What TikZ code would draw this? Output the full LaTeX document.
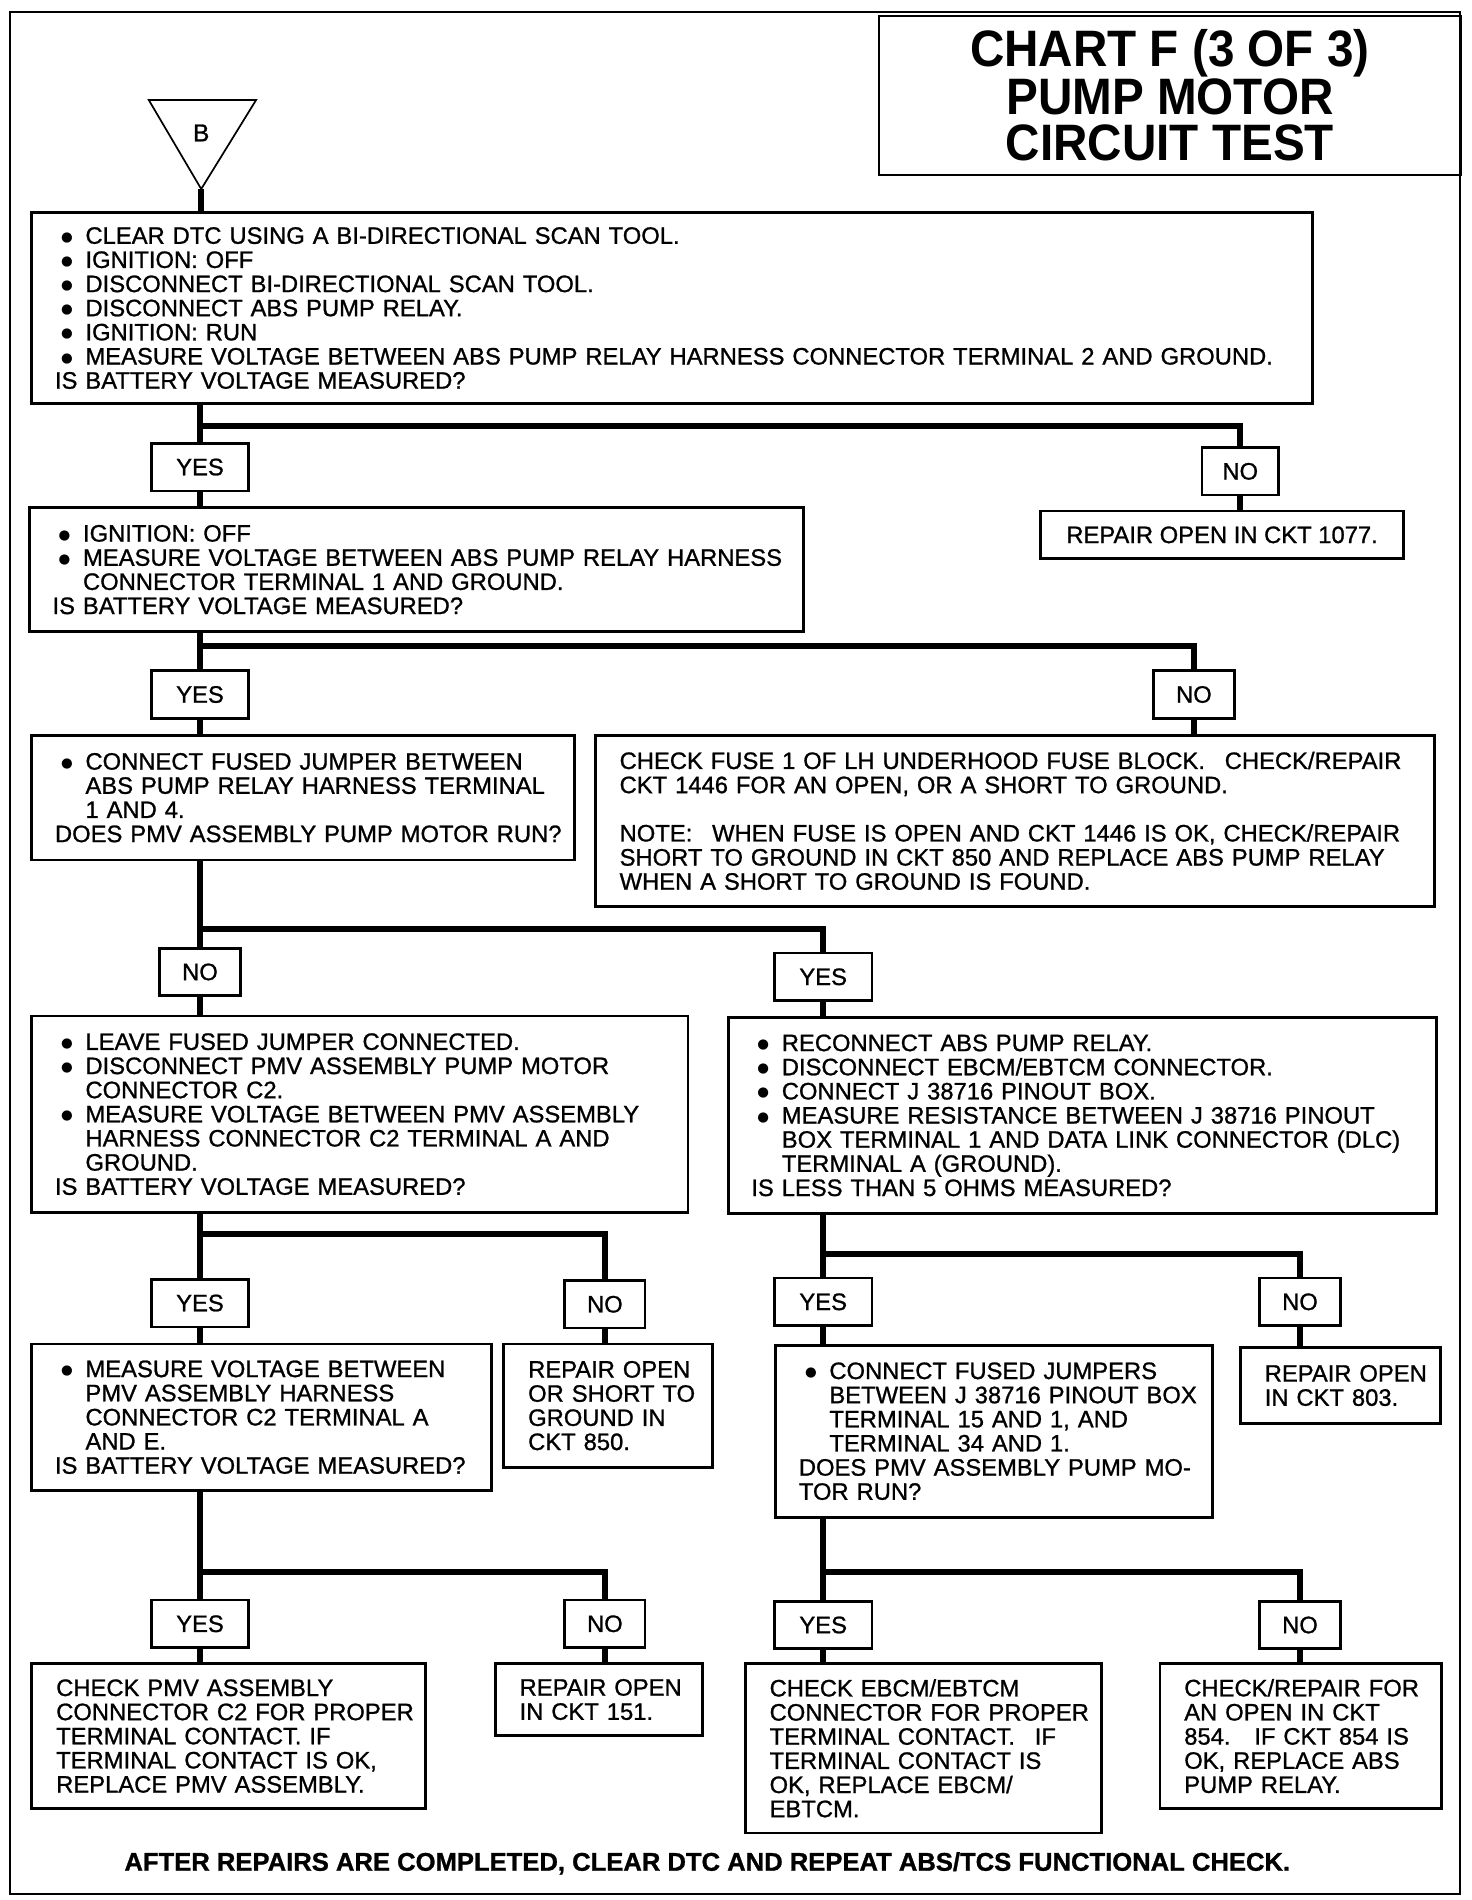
\documentclass[tikz,border=0pt]{standalone}
\usepackage{fontspec}
\setmainfont{Liberation Sans}[FakeBold=1.0]
\newfontfamily\titlefont[FakeStretch=0.93]{Liberation Sans}
\newfontfamily\dotfont{DejaVu Sans}
\usetikzlibrary{positioning}

\newcommand{\itm}{\hspace*{5pt}\makebox[20pt][l]{\raisebox{2pt}{\dotfont\fontsize{11}{11}\selectfont ●}}}
\newcommand{\cnt}{\hspace*{25pt}}

\begin{document}
\begin{tikzpicture}[
    x=1pt,
    y=1pt,
    font=\fontsize{19.5}{19.8}\selectfont,
    line join=miter
  ]

  \tikzstyle{frame} = [rectangle, draw, line width=2.2pt, anchor=north west, inner sep=0pt, align=left]
  \tikzstyle{block} = [frame, execute at begin node={\leftskip=19pt\rightskip=-14pt plus 1fil}]
  \tikzstyle{note} = [frame, execute at begin node={\leftskip=20pt\rightskip=-14pt plus 1fil}]
  \tikzstyle{result} = [rectangle, draw, line width=2.2pt, anchor=north west, inner sep=0pt]
  \tikzstyle{ansyes} = [rectangle, draw, line width=2.2pt, minimum width=80pt, minimum height=39pt, inner sep=0pt]
  \tikzstyle{ansno} = [ansyes, minimum width=66pt]
  \tikzstyle{line} = [draw, line width=4.8pt]

  \useasboundingbox (0,0) rectangle (1207,-1558);
  \draw [line width=1.6pt] (8,-10) rectangle (1197,-1553);

  \node [rectangle, draw, line width=1.6pt, anchor=north west, minimum width=477pt, minimum height=131pt, align=center,
         font=\titlefont\fontsize{42}{38}\selectfont\bfseries] (title) at (720,-12) {CHART F (3 OF 3)\\PUMP MOTOR\\CIRCUIT TEST};

  % entry point
  \coordinate (tip) at (165,-155);
  \draw [line width=1.4pt] (122,-82) -- (210,-82) -- (tip) -- cycle;
  \node [font=\fontsize{20}{20}\selectfont] (entry) at (165,-109) {B};

  \node [block, text width=1050pt, minimum height=157pt] (q1) at (25,-173) {\itm CLEAR DTC USING A BI-DIRECTIONAL SCAN TOOL.\\ \itm IGNITION: OFF\\ \itm DISCONNECT BI-DIRECTIONAL SCAN TOOL.\\ \itm DISCONNECT ABS PUMP RELAY.\\ \itm IGNITION: RUN\\ \itm MEASURE VOLTAGE BETWEEN ABS PUMP RELAY HARNESS CONNECTOR TERMINAL 2 AND GROUND.\\ IS BATTERY VOLTAGE MEASURED?};

  \draw [line] (tip) -- (q1.north -| tip);

  \coordinate (br1) at (0,-349);
  \node [ansyes] (yes1) at (164,-383) {YES};
  \node [ansno, minimum width=63pt] (no1) at (1017,-386.5) {NO};
  \node [result, minimum width=298pt, minimum height=39pt] (res1) at (852,-418) {REPAIR OPEN IN CKT 1077.};

  \draw [line] (q1.south -| yes1) -- (yes1.north);
  \draw [line] (yes1 |- br1) -| (no1.north);
  \draw [line] (no1.south) -- (no1 |- res1.north);

  \node [block, text width=635pt, minimum height=102pt] (q2) at (23,-415) {\itm IGNITION: OFF\\ \itm MEASURE VOLTAGE BETWEEN ABS PUMP RELAY HARNESS\\ \cnt CONNECTOR TERMINAL 1 AND GROUND.\\ IS BATTERY VOLTAGE MEASURED?};

  \draw [line] (yes1.south) -- (yes1 |- q2.north);

  \coordinate (br2) at (0,-530);
  \node [ansyes] (yes2) at (164,-569.5) {YES};
  \node [ansno] (no2) at (979,-569.5) {NO};

  \draw [line] (q2.south -| yes2) -- (yes2.north);
  \draw [line] (yes2 |- br2) -| (no2.north);

  \node [block, text width=445pt, minimum height=102pt] (q3) at (25,-602) {\itm CONNECT FUSED JUMPER BETWEEN\\ \cnt ABS PUMP RELAY HARNESS TERMINAL\\ \cnt 1 AND 4.\\ DOES PMV ASSEMBLY PUMP MOTOR RUN?};
  \node [note, text width=688pt, minimum height=140pt] (fuse) at (487,-602) {CHECK FUSE 1 OF LH UNDERHOOD FUSE BLOCK.\hspace{0.5em} CHECK/REPAIR\\ CKT 1446 FOR AN OPEN, OR A SHORT TO GROUND.\\[19.8pt] NOTE:\hspace{0.5em} WHEN FUSE IS OPEN AND CKT 1446 IS OK, CHECK/REPAIR\\ SHORT TO GROUND IN CKT 850 AND REPLACE ABS PUMP RELAY\\ WHEN A SHORT TO GROUND IS FOUND.};

  \draw [line] (yes2.south) -- (yes2 |- q3.north);
  \draw [line] (no2.south) -- (no2 |- fuse.north);

  \coordinate (br3) at (0,-762);
  \node [ansno] (no3) at (164,-797) {NO};
  \node [ansyes] (yes3) at (675,-801) {YES};

  \draw [line] (q3.south -| no3) -- (no3.north);
  \draw [line] (no3 |- br3) -| (yes3.north);

  \node [block, text width=538pt, minimum height=161pt] (q4) at (25,-832) {\itm LEAVE FUSED JUMPER CONNECTED.\\ \itm DISCONNECT PMV ASSEMBLY PUMP MOTOR\\ \cnt CONNECTOR C2.\\ \itm MEASURE VOLTAGE BETWEEN PMV ASSEMBLY\\ \cnt HARNESS CONNECTOR C2 TERMINAL A AND\\ \cnt GROUND.\\ IS BATTERY VOLTAGE MEASURED?};
  \node [block, text width=581pt, minimum height=161pt] (q5) at (596,-833) {\itm RECONNECT ABS PUMP RELAY.\\ \itm DISCONNECT EBCM/EBTCM CONNECTOR.\\ \itm CONNECT J 38716 PINOUT BOX.\\ \itm MEASURE RESISTANCE BETWEEN J 38716 PINOUT\\ \cnt BOX TERMINAL 1 AND DATA LINK CONNECTOR (DLC)\\ \cnt TERMINAL A (GROUND).\\ IS LESS THAN 5 OHMS MEASURED?};

  \draw [line] (no3.south) -- (no3 |- q4.north);
  \draw [line] (yes3.south) -- (yes3 |- q5.north);

  \coordinate (br4) at (0,-1012);
  \coordinate (br5) at (0,-1028);
  \node [ansyes] (yes4) at (164,-1068.5) {YES};
  \node [ansno] (no4) at (496,-1069.5) {NO};
  \node [ansyes] (yes5) at (675,-1067.5) {YES};
  \node [ansno] (no5) at (1066,-1067.5) {NO};

  \draw [line] (q4.south -| yes4) -- (yes4.north);
  \draw [line] (yes4 |- br4) -| (no4.north);
  \draw [line] (q5.south -| yes5) -- (yes5.north);
  \draw [line] (yes5 |- br5) -| (no5.north);

  \node [block, text width=377pt, minimum height=120pt] (q6) at (25,-1101) {\itm MEASURE VOLTAGE BETWEEN\\ \cnt PMV ASSEMBLY HARNESS\\ \cnt CONNECTOR C2 TERMINAL A\\ \cnt AND E.\\ IS BATTERY VOLTAGE MEASURED?};
  \node [note, text width=171pt, minimum height=101pt] (res850) at (412,-1101) {REPAIR OPEN\\ OR SHORT TO\\ GROUND IN\\ CKT 850.};
  \node [block, text width=358pt, minimum height=141pt] (q7) at (635,-1102) {\itm CONNECT FUSED JUMPERS\\ \cnt BETWEEN J 38716 PINOUT BOX\\ \cnt TERMINAL 15 AND 1, AND\\ \cnt TERMINAL 34 AND 1.\\ DOES PMV ASSEMBLY PUMP MO-\\ TOR RUN?};
  \node [note, text width=164pt, minimum height=62pt] (res803) at (1016,-1104) {REPAIR OPEN\\ IN CKT 803.};

  \draw [line] (yes4.south) -- (yes4 |- q6.north);
  \draw [line] (no4.south) -- (no4 |- res850.north);
  \draw [line] (yes5.south) -- (yes5 |- q7.north);
  \draw [line] (no5.south) -- (no5 |- res803.north);

  \coordinate (br6) at (0,-1289);
  \node [ansyes] (yes6) at (164,-1331.5) {YES};
  \node [ansno] (no6) at (496,-1331.5) {NO};
  \node [ansyes] (yes7) at (675,-1332.5) {YES};
  \node [ansno] (no7) at (1066,-1332.5) {NO};

  \draw [line] (q6.south -| yes6) -- (yes6.north);
  \draw [line] (yes6 |- br6) -| (no6.north);
  \draw [line] (q7.south -| yes7) -- (yes7.north);
  \draw [line] (yes7 |- br6) -| (no7.north);

  \node [note, text width=323pt, minimum height=119pt] (fin1) at (25,-1363) {CHECK PMV ASSEMBLY\\ CONNECTOR C2 FOR PROPER\\ TERMINAL CONTACT. IF\\ TERMINAL CONTACT IS OK,\\ REPLACE PMV ASSEMBLY.};
  \node [note, text width=170pt, minimum height=59pt] (res151) at (405,-1363) {REPAIR OPEN\\ IN CKT 151.};
  \node [note, text width=292pt, minimum height=139pt] (fin2) at (610,-1363) {CHECK EBCM/EBTCM\\ CONNECTOR FOR PROPER\\ TERMINAL CONTACT.\hspace{0.5em} IF\\ TERMINAL CONTACT IS\\ OK, REPLACE EBCM/\\ EBTCM.};
  \node [note, text width=231pt, minimum height=119pt] (fin3) at (950,-1363) {CHECK/REPAIR FOR\\ AN OPEN IN CKT\\ 854.\hspace{0.5em} IF CKT 854 IS\\ OK, REPLACE ABS\\ PUMP RELAY.};

  \draw [line] (yes6.south) -- (yes6 |- fin1.north);
  \draw [line] (no6.south) -- (no6 |- res151.north);
  \draw [line] (yes7.south) -- (yes7 |- fin2.north);
  \draw [line] (no7.south) -- (no7 |- fin3.north);

  \node [font=\fontsize{21}{21}\selectfont\bfseries] (footer) at (580,-1528) {AFTER REPAIRS ARE COMPLETED, CLEAR DTC AND REPEAT ABS/TCS FUNCTIONAL CHECK.};

\end{tikzpicture}
\end{document}
